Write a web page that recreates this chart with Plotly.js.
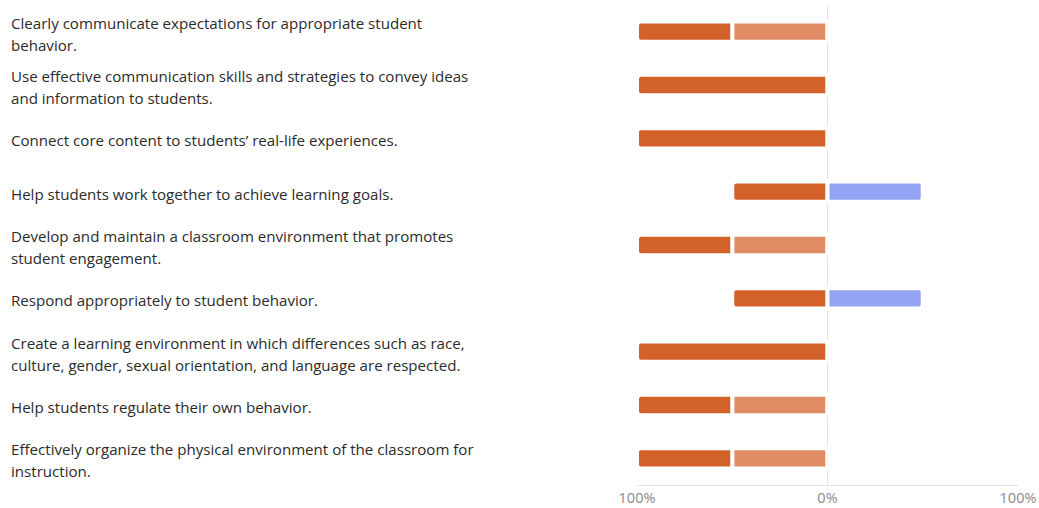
<!DOCTYPE html>
<html>
<head>
<meta charset="utf-8">
<script src="https://cdn.plot.ly/plotly-3.0.1.min.js"></script>
<style>html,body{margin:0;padding:0;background:#fff;}#chart{width:1039px;height:508px;}</style>
</head>
<body>
<div id="chart"></div>
<script>
const categories = [
  "Clearly communicate expectations for appropriate student<br>behavior.",
  "Use effective communication skills and strategies to convey ideas<br>and information to students.",
  "Connect core content to students\u2019 real-life experiences.",
  "Help students work together to achieve learning goals.",
  "Develop and maintain a classroom environment that promotes<br>student engagement.",
  "Respond appropriately to student behavior.",
  "Create a learning environment in which differences such as race,<br>culture, gender, sexual orientation, and language are respected.",
  "Help students regulate their own behavior.",
  "Effectively organize the physical environment of the classroom for<br>instruction."
];
const lightOrange = [-50, 0, 0, 0, -50, 0, 0, -50, -50];
const darkOrange = [-50, -100, -100, -50, -50, -50, -100, -50, -50];
const blue = [0, 0, 0, 50, 0, 50, 0, 0, 0];
const tickVals = [-100, 0, 100];
const tickText = ["100%", "0%", "100%"];

const ids = categories.map((c, i) => "c" + i);
function mk(vals, color) {
  return {
    type: "bar", orientation: "h", x: vals, y: ids,
    marker: {color: color, line: {color: "#ffffff", width: 4}, cornerradius: 4},
    hoverinfo: "skip", showlegend: false
  };
}
const data = [mk(lightOrange, "#e18c65"), mk(darkOrange, "#d3612a"), mk(blue, "#93a4f5")];

const lineGap = 22;
const annotations = [];
categories.forEach((c, i) => {
  const lines = c.split("<br>");
  lines.forEach((ln, j) => {
    annotations.push({
      xref: "paper", yref: "y", x: -1.649, y: ids[i], xanchor: "left", yanchor: "middle",
      yshift: ((lines.length - 1) / 2 - j) * lineGap - 2,
      text: ln, showarrow: false, align: "left",
      font: {family: "Open Sans, Noto Sans, sans-serif", size: 15.1, color: "#2b2b2b"}
    });
  });
});

const layout = {
  width: 1039, height: 508,
  margin: {l: 637, r: 21, t: 5, b: 23},
  paper_bgcolor: "#ffffff", plot_bgcolor: "#ffffff",
  barmode: "relative", bargap: 0.62,
  xaxis: {
    range: [-100, 100], tickvals: tickVals, ticktext: tickText,
    showgrid: true, gridcolor: "#e2e2e2", gridwidth: 1, zeroline: false,
    showline: true, linecolor: "#e2e2e2", linewidth: 1, ticks: "",
    tickfont: {family: "Open Sans, Noto Sans, sans-serif", size: 14.5, color: "#8a8a8a"},
    fixedrange: true
  },
  yaxis: {
    type: "category", categoryorder: "array", categoryarray: ids,
    autorange: "reversed", showticklabels: false, showgrid: false, zeroline: false,
    showline: false, ticks: "", fixedrange: true
  },
  annotations: annotations
};
Plotly.newPlot("chart", data, layout, {displayModeBar: false, staticPlot: true});
</script>
</body>
</html>
